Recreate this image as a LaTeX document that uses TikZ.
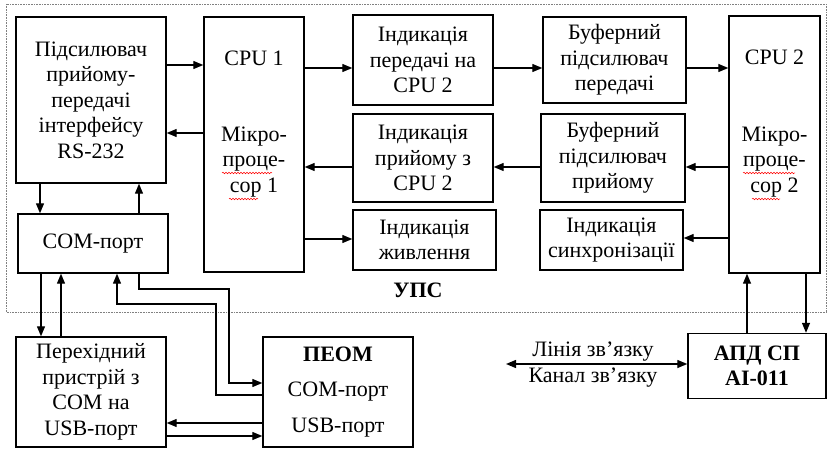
\documentclass[tikz,border=0pt]{standalone}
\usepackage{fontspec}
\setmainfont{Liberation Serif}
\usetikzlibrary{arrows.meta,decorations.pathmorphing}
\begin{document}
\begin{tikzpicture}[x=1pt,y=-1pt,
  box/.style={draw,line width=1.4pt,inner sep=0pt,align=center,font=\fontsize{22}{25.5}\selectfont},
  txt/.style={inner sep=0pt,align=center,font=\fontsize{22}{25.5}\selectfont},
  arr/.style={line width=1.3pt,-{Triangle[length=10pt,width=8pt]}},
  darr/.style={line width=1.3pt,{Triangle[length=10pt,width=8pt]}-{Triangle[length=10pt,width=8pt]}},
  wavy/.style={red,line width=0.5pt,decorate,decoration={snake,segment length=3pt,amplitude=0.8pt}}]
\useasboundingbox (0,0) rectangle (827,449);
% dotted frame
\draw[gray,line width=0.8pt,dash pattern=on 0.8pt off 0.8pt] (6,4) rectangle (826,312);
% boxes
\node[box,minimum width=150,minimum height=166] (amp) at (91,100) {Підсилювач\\прийому-\\передачі\\інтерфейсу\\RS-232};
\node[box,minimum width=100,minimum height=255] (cpu1) at (254,144.5) {};
\node[box,minimum width=140,minimum height=90] (indtx) at (423,60) {Індикація\\передачі на\\CPU 2};
\node[box,minimum width=140,minimum height=88] (indrx) at (423,158) {Індикація\\прийому з\\CPU 2};
\node[box,minimum width=143,minimum height=60] (indpw) at (424.5,240) {Індикація\\живлення};
\node[box,minimum width=143,minimum height=86] (buftx) at (614.5,60) {Буферний\\підсилювач\\передачі};
\node[box,minimum width=144,minimum height=88] (bufrx) at (613,158) {Буферний\\підсилювач\\прийому};
\node[box,minimum width=143,minimum height=60] (indsy) at (611.5,240) {Індикація\\синхронізації};
\node[box,minimum width=91,minimum height=257] (cpu2) at (774.5,144.5) {};
\node[box,minimum width=150,minimum height=59] (com) at (93,243.5) {COM-порт};
\node[box,minimum width=150,minimum height=110] (conv) at (91,392) {Перехідний\\пристрій з\\COM на\\USB-порт};
\node[box,minimum width=150,minimum height=110] (pc) at (338,392) {};
\node[box,minimum width=138,minimum height=65] (apd) at (757,366) {\textbf{АПД СП}\\\textbf{AI-011}};
% texts inside CPU and PC boxes
\node[txt] (cpu1a) at (254,58) {CPU 1};
\node[txt] (cpu1b) at (254,162) {Мікро-\\проце-\\сор 1};
\node[txt] (cpu2a) at (774.5,57) {CPU 2};
\node[txt] (cpu2b) at (774.5,162) {Мікро-\\проце-\\сор 2};
\node[txt] (pca) at (338,354) {\textbf{ПЕОМ}};
\node[txt] (pcb) at (338,392) {COM-порт};
\node[txt] (pcc) at (338,428) {USB-порт};
\node[txt] (ups) at (418,290) {\textbf{УПС}};
\node[txt] (l1) at (593,352) {Лінія зв’язку};
\node[txt] (l2) at (593,378) {Канал зв’язку};
% spell-check marks
\draw[wavy] (222,173) -- (272,173);
\draw[wavy] (229,199) -- (258,199);
\draw[wavy] (743,173) -- (795,173);
\draw[wavy] (752,199) -- (780,199);
% connectors
\draw[arr] (amp.east|-0,65) -- (cpu1.west|-0,65);
\draw[arr] (cpu1.west|-0,133) -- (amp.east|-0,133);
\draw[arr] (cpu1.east|-0,68) -- (indtx.west|-0,68);
\draw[arr] (indrx.west|-0,167) -- (cpu1.east|-0,167);
\draw[arr] (cpu1.east|-0,239) -- (indpw.west|-0,239);
\draw[arr] (indtx.east|-0,68) -- (buftx.west|-0,68);
\draw[arr] (buftx.east|-0,68) -- (cpu2.west|-0,68);
\draw[arr] (cpu2.west|-0,167) -- (bufrx.east|-0,167);
\draw[arr] (bufrx.west|-0,167) -- (indrx.east|-0,167);
\draw[arr] (cpu2.west|-0,238) -- (indsy.east|-0,238);
\draw[arr] (amp.south-|40,0) -- (com.north-|40,0);
\draw[arr] (com.north-|139,0) -- (amp.south-|139,0);
\draw[arr] (com.south-|41,0) -- (conv.north-|41,0);
\draw[arr] (conv.north-|61,0) -- (com.south-|61,0);
\draw[arr] (com.south-|139,0) -- (139,289) -- (229,289) -- (229,383) -- (pc.west|-0,383);
\draw[arr] (pc.west|-0,395) -- (216,395) -- (216,304) -- (117,304) -- (com.south-|117,0);
\draw[arr] (pc.west|-0,423) -- (conv.east|-0,423);
\draw[arr] (conv.east|-0,436) -- (pc.west|-0,436);
\draw[arr] (apd.north-|747,0) -- (cpu2.south-|747,0);
\draw[arr] (cpu2.south-|806,0) -- (apd.north-|806,0);
\coordinate (lineend) at (506,364);
\draw[darr] (lineend) -- (apd.west|-lineend);
\end{tikzpicture}
\end{document}
